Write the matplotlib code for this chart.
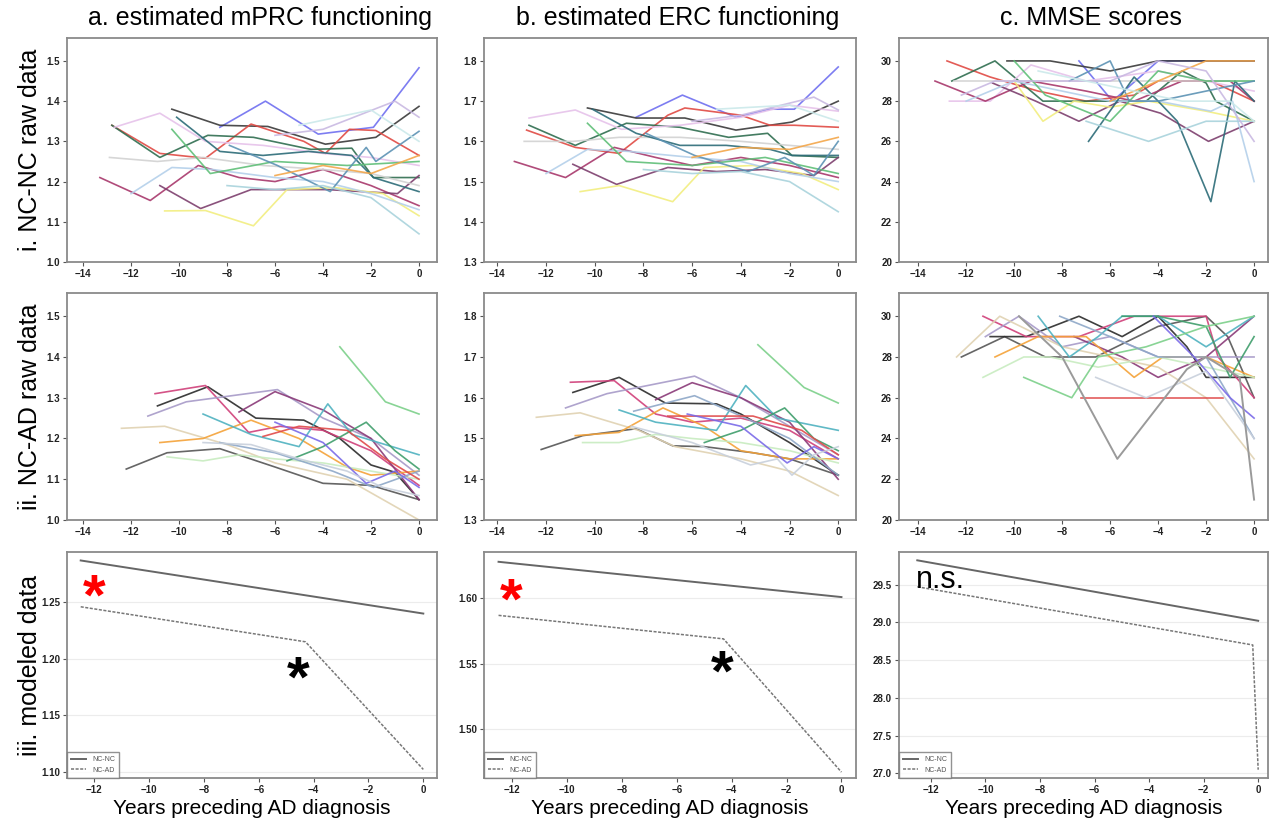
import matplotlib
matplotlib.use("Agg")
import matplotlib.pyplot as plt
from matplotlib import font_manager

# Fonte parecida com Arial
nomes = {f.name for f in font_manager.fontManager.ttflist}
FONTE = "Liberation Sans Narrow" if "Liberation Sans Narrow" in nomes else "Liberation Sans"
plt.rcParams["font.family"] = ["Liberation Sans", "DejaVu Sans"]

# Títulos das colunas e das linhas
col_titles = ["a. estimated mPRC functioning", "b. estimated ERC functioning", "c. MMSE scores"]
row_titles = ["i. NC-NC raw data", "ii. NC-AD raw data", "iii. modeled data"]
xlabel_txt = "Years preceding AD diagnosis"

# Cores dos sujeitos (uma por linha)
cores_nc = ["#6f6ff0", "#3a3a3a", "#e04a44", "#2f6e50", "#e6c2ea", "#a8386c", "#7d3f6e",
            "#f2ee80", "#d2d2d2", "#b4d0ea", "#2c6c78", "#5fbf78", "#5c92b4", "#f3a64a",
            "#a9d3dc", "#c9b9e2", "#cbe9ea"]
cores_ad = ["#555555", "#2a2a2a", "#d0407a", "#a79ac8", "#8a3a78", "#e0d2b2", "#f4a238",
            "#c8ecc0", "#4fb2c0", "#3f9e6c", "#7cd08a", "#8ea8c8", "#e04a4a", "#7a6ae8",
            "#c8d0dc"]

# ---------------- a.i  mPRC, NC-NC ----------------
mprc_nc = [
    ([-8.3, -6.4, -4.2, -1.9, 0], [1.335, 1.40, 1.318, 1.335, 1.483]),
    ([-10.3, -8.3, -6.3, -3.9, -1.8, 0], [1.38, 1.34, 1.337, 1.293, 1.31, 1.387]),
    ([-12.8, -10.8, -8.9, -7.0, -4.8, -3.9, -2.9, -1.8, 0], [1.34, 1.27, 1.258, 1.343, 1.30, 1.27, 1.33, 1.327, 1.265]),
    ([-12.8, -10.8, -8.8, -6.9, -4.5, -2.8, -1.9, 0], [1.34, 1.26, 1.315, 1.31, 1.28, 1.283, 1.21, 1.21]),
    ([-12.7, -10.8, -8.9, -6.5, -4.0, -2.0, 0], [1.335, 1.37, 1.30, 1.29, 1.27, 1.26, 1.24]),
    ([-13.3, -11.2, -9.2, -7.5, -6.0, -4.0, -2.0, 0], [1.21, 1.153, 1.24, 1.21, 1.20, 1.23, 1.19, 1.14]),
    ([-10.8, -9.1, -7.0, -5.0, -3.8, -0.9, 0], [1.19, 1.133, 1.18, 1.18, 1.18, 1.17, 1.215]),
    ([-10.6, -8.9, -6.9, -5.5, -3.5, -1.5, 0], [1.127, 1.128, 1.09, 1.18, 1.185, 1.17, 1.115]),
    ([-12.9, -10.9, -9.0, -6.5, -4.0, -2.0, 0], [1.26, 1.25, 1.26, 1.24, 1.23, 1.22, 1.19]),
    ([-12.0, -10.3, -8.6, -6.0, -4.0, -2.0, 0], [1.17, 1.235, 1.23, 1.21, 1.20, 1.17, 1.13]),
    ([-10.1, -8.3, -6.5, -4.6, -2.8, -1.9, 0], [1.36, 1.275, 1.265, 1.275, 1.265, 1.21, 1.175]),
    ([-10.3, -8.7, -6.0, -3.0, 0], [1.33, 1.22, 1.25, 1.24, 1.25]),
    ([-7.9, -5.9, -3.7, -2.2, -1.8, 0], [1.29, 1.24, 1.175, 1.285, 1.25, 1.325]),
    ([-6.0, -4.0, -2.0, 0], [1.215, 1.24, 1.22, 1.265]),
    ([-8.0, -6.0, -4.0, -2.0, 0], [1.19, 1.18, 1.19, 1.16, 1.07]),
    ([-6.0, -4.0, -1.0, 0], [1.315, 1.33, 1.40, 1.36]),
    ([-5.0, -2.0, 0], [1.34, 1.378, 1.30]),
]

# ---------------- b.i  ERC, NC-NC ----------------
erc_nc = [
    ([-8.3, -6.4, -4.2, -2.8, -1.8, 0], [1.66, 1.715, 1.66, 1.68, 1.68, 1.785]),
    ([-10.3, -8.3, -6.3, -4.2, -1.9, 0], [1.683, 1.658, 1.658, 1.628, 1.648, 1.70]),
    ([-12.8, -10.8, -9.0, -7.0, -6.3, -4.0, -2.8, -1.8, 0], [1.628, 1.585, 1.57, 1.665, 1.683, 1.665, 1.64, 1.64, 1.635]),
    ([-12.7, -10.8, -8.7, -6.5, -4.5, -2.9, -1.9, 0], [1.64, 1.59, 1.645, 1.635, 1.61, 1.62, 1.565, 1.56]),
    ([-12.7, -10.8, -8.9, -6.5, -4.0, -2.0, 0], [1.658, 1.678, 1.63, 1.64, 1.66, 1.69, 1.675]),
    ([-13.3, -11.2, -9.2, -7.5, -6.0, -4.0, -2.0, 0], [1.55, 1.51, 1.585, 1.56, 1.54, 1.56, 1.54, 1.51]),
    ([-10.9, -9.1, -7.0, -5.0, -3.0, -1.0, 0], [1.543, 1.493, 1.535, 1.525, 1.53, 1.515, 1.56]),
    ([-10.6, -9.0, -6.8, -5.5, -3.5, -1.5, 0], [1.475, 1.49, 1.45, 1.535, 1.54, 1.52, 1.48]),
    ([-12.9, -10.9, -9.0, -6.5, -4.0, -2.0, 0], [1.60, 1.60, 1.61, 1.61, 1.60, 1.59, 1.58]),
    ([-12.0, -10.3, -8.6, -6.0, -4.0, -2.0, 0], [1.52, 1.58, 1.575, 1.56, 1.55, 1.52, 1.50]),
    ([-10.1, -8.3, -6.5, -4.6, -2.8, -1.9, 0], [1.68, 1.62, 1.59, 1.59, 1.58, 1.565, 1.565]),
    ([-10.3, -8.7, -6.0, -3.0, 0], [1.645, 1.55, 1.54, 1.56, 1.52]),
    ([-7.9, -5.9, -3.7, -2.2, -1.0, 0], [1.62, 1.565, 1.525, 1.56, 1.515, 1.60]),
    ([-6.0, -4.0, -2.0, 0], [1.56, 1.585, 1.58, 1.61]),
    ([-8.0, -6.0, -4.0, -2.0, 0], [1.53, 1.52, 1.525, 1.50, 1.425]),
    ([-6.0, -4.0, -1.0, 0], [1.65, 1.665, 1.71, 1.678]),
    ([-5.0, -2.0, 0], [1.68, 1.69, 1.65]),
]

# ---------------- c.i  MMSE, NC-NC ----------------
mmse_nc = [
    ([-7.3, -5.9, -4.0, -2.0, 0], [30, 28, 30, 30, 30]),
    ([-10.3, -8.5, -6.0, -4.0, -2.0, 0], [30, 30, 29.5, 30, 30, 30]),
    ([-12.8, -11.0, -9.0, -7.0, -5.0, -4.0, -2.9, -1.8, 0], [30, 29.2, 28.5, 28, 28.3, 29, 29, 29, 28]),
    ([-12.6, -10.8, -8.8, -6.8, -4.5, -3.0, -2.0, -1.6, 0], [29, 30, 28, 28, 28, 29.5, 28.9, 28, 27]),
    ([-12.7, -11.0, -9.3, -7.0, -4.0, -2.0, 0], [28, 28, 29.8, 29, 29.5, 29, 28.5]),
    ([-13.3, -11.2, -9.3, -7.0, -5.0, -3.0, -1.0, 0], [29, 28, 29, 28.5, 28, 29, 29, 28]),
    ([-10.9, -9.1, -7.3, -5.6, -3.9, -1.9, 0], [28.9, 28, 27, 28, 27.4, 26, 27]),
    ([-10.0, -8.8, -7.5, -6.0, -4.4, -2.0, 0], [29, 27, 28, 27.7, 28, 27.5, 27]),
    ([-12.5, -10.5, -8.0, -6.0, -4.0, -2.0, 0], [29, 29, 29, 29, 29, 29, 29]),
    ([-12.0, -10.0, -8.0, -6.0, -4.0, -1.8, -0.9, 0], [28, 29, 28.5, 28, 28, 27.5, 28, 24]),
    ([-6.9, -5.0, -4.0, -3.2, -1.8, -0.8, 0], [26, 29.2, 28, 27, 23, 29, 28]),
    ([-10.0, -8.7, -6.0, -4.0, -2.0, 0], [30, 28.3, 27, 29.5, 29, 29]),
    ([-7.7, -6.0, -5.2, -4.0, -2.0, 0], [29, 30, 28, 28, 28.5, 29]),
    ([-6.0, -4.0, -2.0, 0], [28, 29, 30, 30]),
    ([-7.0, -4.4, -2.0, 0], [27, 26, 27, 27]),
    ([-12.2, -10.8, -9.0, -6.0, -4.0, -2.0, 0], [28.3, 29, 29, 29, 30, 29.5, 26]),
    ([-9.0, -7.0, -5.0, -3.0, -1.0, 0], [29.5, 29, 28.5, 28, 28, 27]),
]

# ---------------- a.ii  mPRC, NC-AD ----------------
mprc_ad = [
    ([-12.2, -10.5, -8.3, -6.0, -4.0, -2.0, 0], [1.125, 1.165, 1.175, 1.13, 1.09, 1.085, 1.05]),
    ([-10.9, -8.8, -6.8, -4.8, -3.3, -2.0, -1.0, 0], [1.28, 1.327, 1.25, 1.245, 1.20, 1.135, 1.117, 1.05]),
    ([-11.0, -8.9, -7.1, -5.8, -4.0, -2.0, 0], [1.31, 1.33, 1.215, 1.23, 1.22, 1.17, 1.085]),
    ([-11.3, -9.7, -5.9, -4.0, -2.0, 0], [1.255, 1.29, 1.32, 1.25, 1.20, 1.11]),
    ([-7.5, -6.0, -4.0, -2.0, 0], [1.265, 1.315, 1.27, 1.20, 1.05]),
    ([-12.4, -10.6, -8.0, -6.0, -3.0, 0], [1.225, 1.23, 1.185, 1.14, 1.10, 1.0]),
    ([-10.8, -9.0, -7.0, -5.0, -3.0, -2.0, 0], [1.19, 1.20, 1.245, 1.20, 1.13, 1.11, 1.12]),
    ([-10.5, -9.0, -7.5, -6.0, -4.0, -2.0, 0], [1.155, 1.145, 1.16, 1.15, 1.14, 1.12, 1.10]),
    ([-9.0, -7.0, -5.0, -3.8, -2.8, 0], [1.26, 1.21, 1.18, 1.285, 1.21, 1.16]),
    ([-5.5, -4.0, -2.2, -1.0, 0], [1.145, 1.18, 1.24, 1.17, 1.125]),
    ([-3.3, -1.4, 0], [1.425, 1.29, 1.26]),
    ([-8.3, -6.0, -3.6, -1.9, 0], [1.19, 1.165, 1.12, 1.08, 1.12]),
    ([-6.5, -5.0, -3.0, -1.4, 0], [1.205, 1.23, 1.22, 1.15, 1.10]),
    ([-6.0, -4.0, -2.2, -1.0, 0], [1.24, 1.19, 1.09, 1.12, 1.08]),
    ([-9.0, -7.0, -5.0, -3.0, -1.5, 0], [1.19, 1.185, 1.15, 1.12, 1.08, 1.06]),
]

# ---------------- b.ii  ERC, NC-AD ----------------
erc_ad = [
    ([-12.2, -10.5, -8.3, -6.8, -5.5, -3.5, -2.0, 0], [1.473, 1.507, 1.524, 1.482, 1.48, 1.465, 1.45, 1.41]),
    ([-10.9, -9.0, -7.1, -5.0, -4.0, -2.0, 0], [1.613, 1.65, 1.587, 1.585, 1.56, 1.49, 1.41]),
    ([-11.0, -9.2, -7.5, -6.0, -4.0, -2.0, 0], [1.638, 1.642, 1.56, 1.54, 1.55, 1.52, 1.45]),
    ([-11.2, -9.5, -5.9, -4.0, -2.0, 0], [1.575, 1.61, 1.653, 1.60, 1.53, 1.46]),
    ([-7.5, -6.0, -4.0, -2.0, 0], [1.595, 1.637, 1.60, 1.54, 1.40]),
    ([-12.4, -10.6, -8.2, -6.7, -4.0, -2.0, 0], [1.552, 1.563, 1.52, 1.48, 1.45, 1.42, 1.36]),
    ([-10.8, -9.0, -7.2, -5.5, -4.0, -2.0, 0], [1.507, 1.515, 1.575, 1.53, 1.47, 1.45, 1.45]),
    ([-10.5, -9.0, -7.5, -6.0, -4.0, -2.0, 0], [1.49, 1.49, 1.51, 1.50, 1.49, 1.47, 1.44]),
    ([-9.0, -7.5, -5.0, -3.8, -2.5, 0], [1.57, 1.54, 1.52, 1.63, 1.55, 1.52]),
    ([-5.5, -4.0, -2.2, -1.0, 0], [1.49, 1.52, 1.575, 1.50, 1.47]),
    ([-3.3, -1.4, 0], [1.73, 1.625, 1.587]),
    ([-8.4, -5.9, -3.8, -2.0, 0], [1.567, 1.605, 1.55, 1.50, 1.41]),
    ([-7.0, -5.5, -3.5, -1.5, 0], [1.555, 1.555, 1.555, 1.52, 1.46]),
    ([-6.2, -4.0, -2.1, -1.0, 0], [1.56, 1.53, 1.44, 1.48, 1.45]),
    ([-8.5, -6.0, -3.6, -2.5, -1.9, -1.0, 0], [1.53, 1.49, 1.435, 1.45, 1.41, 1.46, 1.48]),
]

# ---------------- c.ii  MMSE, NC-AD ----------------
mmse_ad = [
    ([-12.2, -10.4, -8.7, -6.6, -4.0, -2.0, -1.1, 0], [28, 29, 28, 28, 29.5, 30, 29, 26]),
    ([-11.0, -9.5, -7.3, -5.5, -4.0, -2.8, -2.0, 0], [29, 29, 30, 29, 30, 28.5, 27, 27]),
    ([-11.3, -9.5, -7.3, -5.0, -4.0, -2.0, -1.5, 0], [30, 29, 29, 30, 30, 30, 28, 26]),
    ([-11.2, -9.8, -8.0, -6.0, -4.0, -2.0, 0], [29, 30, 28.5, 29, 28, 28, 28]),
    ([-7.5, -5.5, -4.0, -2.0, 0], [29, 28, 27, 28, 30]),
    ([-12.4, -10.6, -8.0, -6.0, -4.0, -2.0, 0], [28, 30, 28.5, 28, 27.5, 26, 23]),
    ([-10.8, -9.0, -7.0, -5.0, -3.8, -2.0, 0], [28, 29, 29, 27, 28, 28, 27]),
    ([-11.3, -9.6, -8.5, -6.5, -4.0, -2.0, 0], [27, 28, 28, 27.5, 28, 27.5, 27]),
    ([-9.0, -7.7, -6.5, -5.5, -4.0, -2.0, 0], [30, 28, 29, 30, 30, 28.5, 30]),
    ([-5.5, -4.0, -2.0, -1.0, 0], [30, 30, 29.5, 27, 29]),
    ([-9.6, -7.6, -6.5, -4.5, -2.0, 0], [27, 26, 28, 28.5, 29.5, 30]),
    ([-8.1, -6.0, -4.0, -2.0, 0], [30, 29, 28, 28, 24]),
    ([-7.2, -1.3], [26, 26]),
    ([-4.2, -2.5, -1.0, 0], [30, 28, 26, 25]),
    ([-6.6, -4.5, -2.0, 0], [27, 26, 27.3, 24]),
]
mmse_ad_queda = ([-9.8, -8.0, -5.7, -2.8, -2.0, -0.6, 0], [30, 28, 23, 27.4, 28, 27, 21])

# ---------------- iii. dados modelados ----------------
mod_x_nc = [-12.5, 0]
mod_x_ad_mprc = [-12.5, -4.3, 0]
mod_x_ad_mmse = [-12.5, -0.2, 0]
mprc_mod_nc = [1.287, 1.240]
mprc_mod_ad = [1.246, 1.215, 1.102]
erc_mod_nc = [1.628, 1.601]
erc_mod_ad = [1.587, 1.569, 1.467]
mmse_mod_nc = [29.82, 29.02]
mmse_mod_ad = [29.47, 28.70, 27.05]

raw_ticks_x = [-14, -12, -10, -8, -6, -4, -2, 0]
mod_ticks_x = [-12, -10, -8, -6, -4, -2, 0]

W, H = 1274, 825
fig = plt.figure(figsize=(W / 100, H / 100), dpi=100)

col_px = [(67, 437), (484, 856), (899, 1268)]
row_px = [(38, 262), (293, 520), (552, 778)]


def criar_eixo(c, r):
    x0, x1 = col_px[c]
    y0, y1 = row_px[r]
    ax = fig.add_axes([x0 / W, 1 - y1 / H, (x1 - x0) / W, (y1 - y0) / H])
    for s in ax.spines.values():
        s.set_color("#8a8a8a")
        s.set_linewidth(1.3)
    ax.tick_params(direction="out", length=3, width=0.8, color="#555555",
                   labelsize=7, labelcolor="#222222", pad=2)
    return ax


def estilo_ticks(ax):
    for lab in ax.get_xticklabels() + ax.get_yticklabels():
        lab.set_fontweight("bold")


# Painéis de dados brutos
brutos = [
    (mprc_nc, cores_nc, 0, 0, (1.0, 1.557), [1.0, 1.1, 1.2, 1.3, 1.4, 1.5], "{:.1f}", (-14.67, 0.75)),
    (erc_nc, cores_nc, 1, 0, (1.3, 1.857), [1.3, 1.4, 1.5, 1.6, 1.7, 1.8], "{:.1f}", (-14.55, 0.73)),
    (mmse_nc, cores_nc, 2, 0, (20, 31.14), [20, 22, 24, 26, 28, 30], "{:.0f}", (-14.8, 0.58)),
    (mprc_ad, cores_ad, 0, 1, (1.0, 1.557), [1.0, 1.1, 1.2, 1.3, 1.4, 1.5], "{:.1f}", (-14.67, 0.75)),
    (erc_ad, cores_ad, 1, 1, (1.3, 1.857), [1.3, 1.4, 1.5, 1.6, 1.7, 1.8], "{:.1f}", (-14.55, 0.73)),
    (mmse_ad, cores_ad, 2, 1, (20, 31.14), [20, 22, 24, 26, 28, 30], "{:.0f}", (-14.8, 0.58)),
]

for linhas, cores, c, r, ylim, yt, fmt, xlim in brutos:
    ax = criar_eixo(c, r)
    for i, (xs, ys) in enumerate(linhas):
        ax.plot(xs, ys, color=cores[i % len(cores)], lw=1.2, alpha=0.9)
    if linhas is mmse_ad:
        ax.plot(mmse_ad_queda[0], mmse_ad_queda[1], color="#9a9a9a", lw=1.4)
    ax.set_xlim(*xlim)
    ax.set_ylim(*ylim)
    ax.set_xticks(raw_ticks_x)
    ax.set_yticks(yt)
    ax.set_yticklabels([fmt.format(v) for v in yt])
    estilo_ticks(ax)

# Painéis modelados
modelados = [
    (mprc_mod_nc, mprc_mod_ad, mod_x_ad_mprc, 0, (1.0944, 1.2945), [1.10, 1.15, 1.20, 1.25], "{:.2f}", (-13.0, 0.5)),
    (erc_mod_nc, erc_mod_ad, mod_x_ad_mprc, 1, (1.4625, 1.6355), [1.50, 1.55, 1.60], "{:.2f}", (-13.03, 0.53)),
    (mmse_mod_nc, mmse_mod_ad, mod_x_ad_mmse, 2, (26.94, 29.93), [27.0, 27.5, 28.0, 28.5, 29.0, 29.5], "{:.1f}", (-13.17, 0.36)),
]

for y_nc, y_ad, x_ad, c, ylim, yt, fmt, xlim in modelados:
    ax = criar_eixo(c, 2)
    for v in yt:
        ax.axhline(v, color="#ececec", lw=0.8, zorder=0)
    ax.plot(mod_x_nc, y_nc, color="#666666", lw=1.4, label="NC-NC")
    ax.plot(x_ad, y_ad, color="#777777", lw=1.1, ls=(0, (2, 1)), label="NC-AD")
    ax.set_xlim(*xlim)
    ax.set_ylim(*ylim)
    ax.set_xticks(mod_ticks_x)
    ax.set_yticks(yt)
    ax.set_yticklabels([fmt.format(v) for v in yt])
    estilo_ticks(ax)
    leg = ax.legend(loc="lower left", fontsize=5, frameon=True, fancybox=False,
                    borderaxespad=0, handlelength=2.2, borderpad=0.6, labelspacing=0.5)
    leg.get_frame().set_edgecolor("#777777")
    leg.get_frame().set_linewidth(1.0)
    for t in leg.get_texts():
        t.set_color("#555555")
    ax.set_xlabel(xlabel_txt, fontsize=15, labelpad=3)

    if c == 0:
        ax.text(-12.0, 1.252, "*", color="red", fontsize=42, fontweight="bold", ha="center", va="center")
        ax.text(-4.58, 1.180, "*", color="black", fontsize=42, fontweight="bold", ha="center", va="center")
    elif c == 1:
        ax.text(-12.02, 1.596, "*", color="red", fontsize=42, fontweight="bold", ha="center", va="center")
        ax.text(-4.33, 1.541, "*", color="black", fontsize=42, fontweight="bold", ha="center", va="center")
    else:
        ax.text(-12.55, 29.56, "n.s.", color="black", fontsize=22, ha="left", va="center")

# Títulos das colunas
for c, t in enumerate(col_titles):
    x0, x1 = col_px[c]
    fig.text((x0 + x1) / 2 / W + 0.006, 1 - 18 / H, t, ha="center", va="center",
             fontsize=18, family=[FONTE, "DejaVu Sans"])

# Títulos das linhas
for r, t in enumerate(row_titles):
    y0, y1 = row_px[r]
    fig.text(30 / W, 1 - (y0 + y1) / 2 / H, t, ha="center", va="center", rotation=90,
             fontsize=18, family=[FONTE, "DejaVu Sans"])

fig.savefig("out.png", dpi=100, facecolor="white")
